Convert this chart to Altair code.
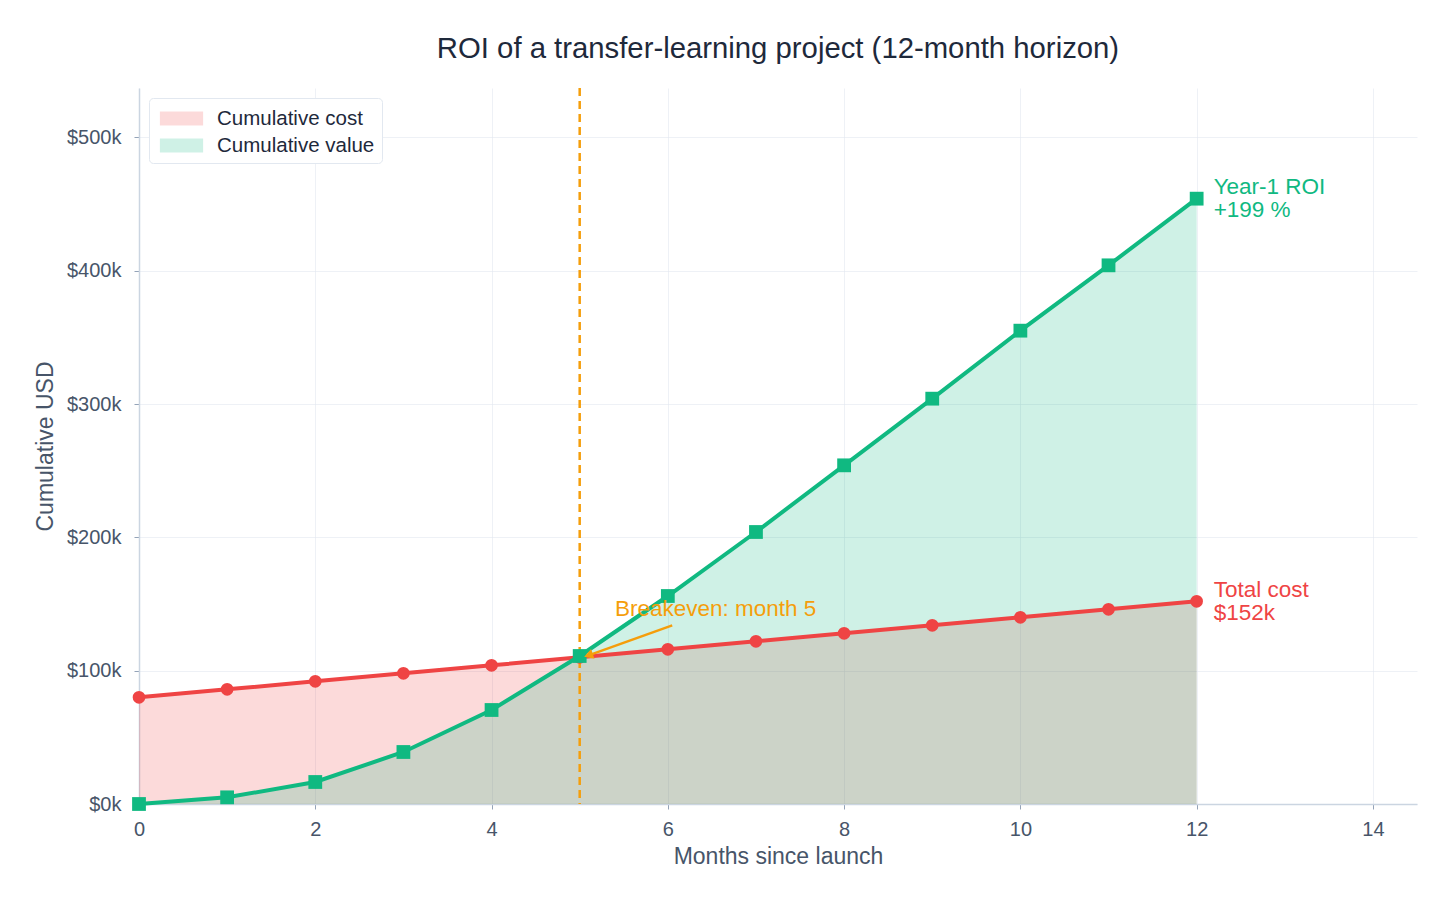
import altair as alt
import pandas as pd

# monthly figures, in thousands of USD
months = [0, 1, 2, 3, 4, 5, 6, 7, 8, 9, 10, 11, 12]
cost_k = [80, 86, 92, 98, 104, 110, 116, 122, 128, 134, 140, 146, 152]
value_k = [0, 5, 16.5, 39, 70.5, 111, 156, 204, 254, 304, 355, 404, 454]

series_names = ["Cumulative cost", "Cumulative value"]
breakeven_month = 5
roi_label = "Year-1 ROI\n+199 %"
cost_label = "Total cost\n$152k"
breakeven_label = "Breakeven: month 5"

RED = "#ef4444"
GREEN = "#10b981"
ORANGE = "#f59e0b"
FONT = "Liberation Sans"

cost = [c * 1000 for c in cost_k]
value = [v * 1000 for v in value_k]

long_df = pd.DataFrame({
    "month": months * 2,
    "usd": cost + value,
    "series": [series_names[0]] * len(months) + [series_names[1]] * len(months),
})
wide_df = pd.DataFrame({"month": months, "cost": cost, "value": value})

x_scale = alt.Scale(domain=[0, 14.5], nice=False, zero=False)
y_scale = alt.Scale(domain=[0, 537000], nice=False)

x_axis = alt.Axis(values=list(range(0, 15, 2)), title="Months since launch", format="d",
                  labelFlush=False, labelPadding=10, titlePadding=6)
y_axis = alt.Axis(values=list(range(0, 500001, 100000)), title="Cumulative USD",
                  labelExpr="'$' + format(datum.value / 1000, 'd') + 'k'",
                  labelFlush=False, labelPadding=13, titlePadding=9)

areas = alt.Chart(long_df).mark_area(opacity=0.2).encode(
    x=alt.X("month:Q", scale=x_scale, axis=x_axis),
    y=alt.Y("usd:Q", scale=y_scale, axis=y_axis, stack=None),
    color=alt.Color("series:N",
                    scale=alt.Scale(domain=series_names, range=[RED, GREEN]),
                    legend=alt.Legend(title=None, orient="none", legendX=10, legendY=10,
                                      symbolType="M-1.6,-0.52H1.6V0.52H-1.6Z",
                                      symbolSize=729, symbolOpacity=0.2,
                                      symbolStrokeWidth=0, symbolOffset=12,
                                      labelOffset=22, labelFontSize=20.5,
                                      labelColor="#1e293b", labelFont=FONT,
                                      padding=7, strokeColor="#e2e8f0",
                                      fillColor="white", cornerRadius=4,
                                      rowPadding=3)),
)

cost_line = alt.Chart(wide_df).mark_line(color=RED, strokeWidth=4).encode(
    x=alt.X("month:Q", scale=x_scale), y=alt.Y("cost:Q", scale=y_scale))
cost_pts = alt.Chart(wide_df).mark_point(shape="circle", filled=True, color=RED,
                                         size=160, opacity=1).encode(
    x=alt.X("month:Q", scale=x_scale), y=alt.Y("cost:Q", scale=y_scale))

value_line = alt.Chart(wide_df).mark_line(color=GREEN, strokeWidth=4).encode(
    x=alt.X("month:Q", scale=x_scale), y=alt.Y("value:Q", scale=y_scale))
value_pts = alt.Chart(wide_df).mark_point(shape="square", filled=True, color=GREEN,
                                          size=190, opacity=1).encode(
    x=alt.X("month:Q", scale=x_scale), y=alt.Y("value:Q", scale=y_scale))

be_rule = alt.Chart(pd.DataFrame({"m": [breakeven_month]})).mark_rule(
    color=ORANGE, strokeWidth=2.5, strokeDash=[8, 5]).encode(
    x=alt.X("m:Q", scale=x_scale))

arrow_df = pd.DataFrame({"x1": [6.05], "y1": [134000], "x2": [5.1], "y2": [111500]})
arrow = alt.Chart(arrow_df).mark_rule(color=ORANGE, strokeWidth=2.5).encode(
    x=alt.X("x1:Q", scale=x_scale), y=alt.Y("y1:Q", scale=y_scale),
    x2="x2:Q", y2="y2:Q")
arrow_head = alt.Chart(arrow_df).mark_point(shape="triangle-right", filled=True,
                                            color=ORANGE, size=110, angle=161,
                                            opacity=1).encode(
    x=alt.X("x2:Q", scale=x_scale), y=alt.Y("y2:Q", scale=y_scale))

be_text = alt.Chart(pd.DataFrame({"x": [5.4], "y": [146000], "t": [breakeven_label]})).mark_text(
    align="left", baseline="middle", color=ORANGE, fontSize=22.5, font=FONT).encode(
    x=alt.X("x:Q", scale=x_scale), y=alt.Y("y:Q", scale=y_scale), text="t:N")

end_df = pd.DataFrame({"x": [months[-1], months[-1]], "y": [value[-1], cost[-1]],
                       "t": [roi_label, cost_label], "c": [GREEN, RED]})
end_text = alt.Chart(end_df).mark_text(
    align="left", baseline="middle", dx=17, dy=-11.5, fontSize=22.5, font=FONT,
    lineBreak="\n", lineHeight=23).encode(
    x=alt.X("x:Q", scale=x_scale), y=alt.Y("y:Q", scale=y_scale), text="t:N",
    color=alt.Color("c:N", scale=None))

chart = alt.layer(
    areas, be_rule, cost_line, value_line, cost_pts, value_pts,
    arrow, arrow_head, be_text, end_text,
).properties(
    width=1278, height=716,
    title=alt.Title("ROI of a transfer-learning project (12-month horizon)",
                    fontSize=29.3, font=FONT, fontWeight="normal", color="#1e293b",
                    offset=22, anchor="middle"),
    autosize=alt.AutoSizeParams(type="none"),
    padding={"left": 131, "top": 80, "right": 29, "bottom": 93},
).configure_view(stroke=None).configure_axis(
    labelFont=FONT, titleFont=FONT, labelFontSize=20, titleFontSize=23,
    labelColor="#475569", titleColor="#475569", titleFontWeight="normal",
    domainColor="#cbd5e1", domainWidth=1.5, tickColor="#94a3b8", tickSize=5,
    gridColor="#e2e8f0", gridOpacity=0.6,
)

chart.save("out.html", embed_options={"renderer": "svg", "actions": False})
